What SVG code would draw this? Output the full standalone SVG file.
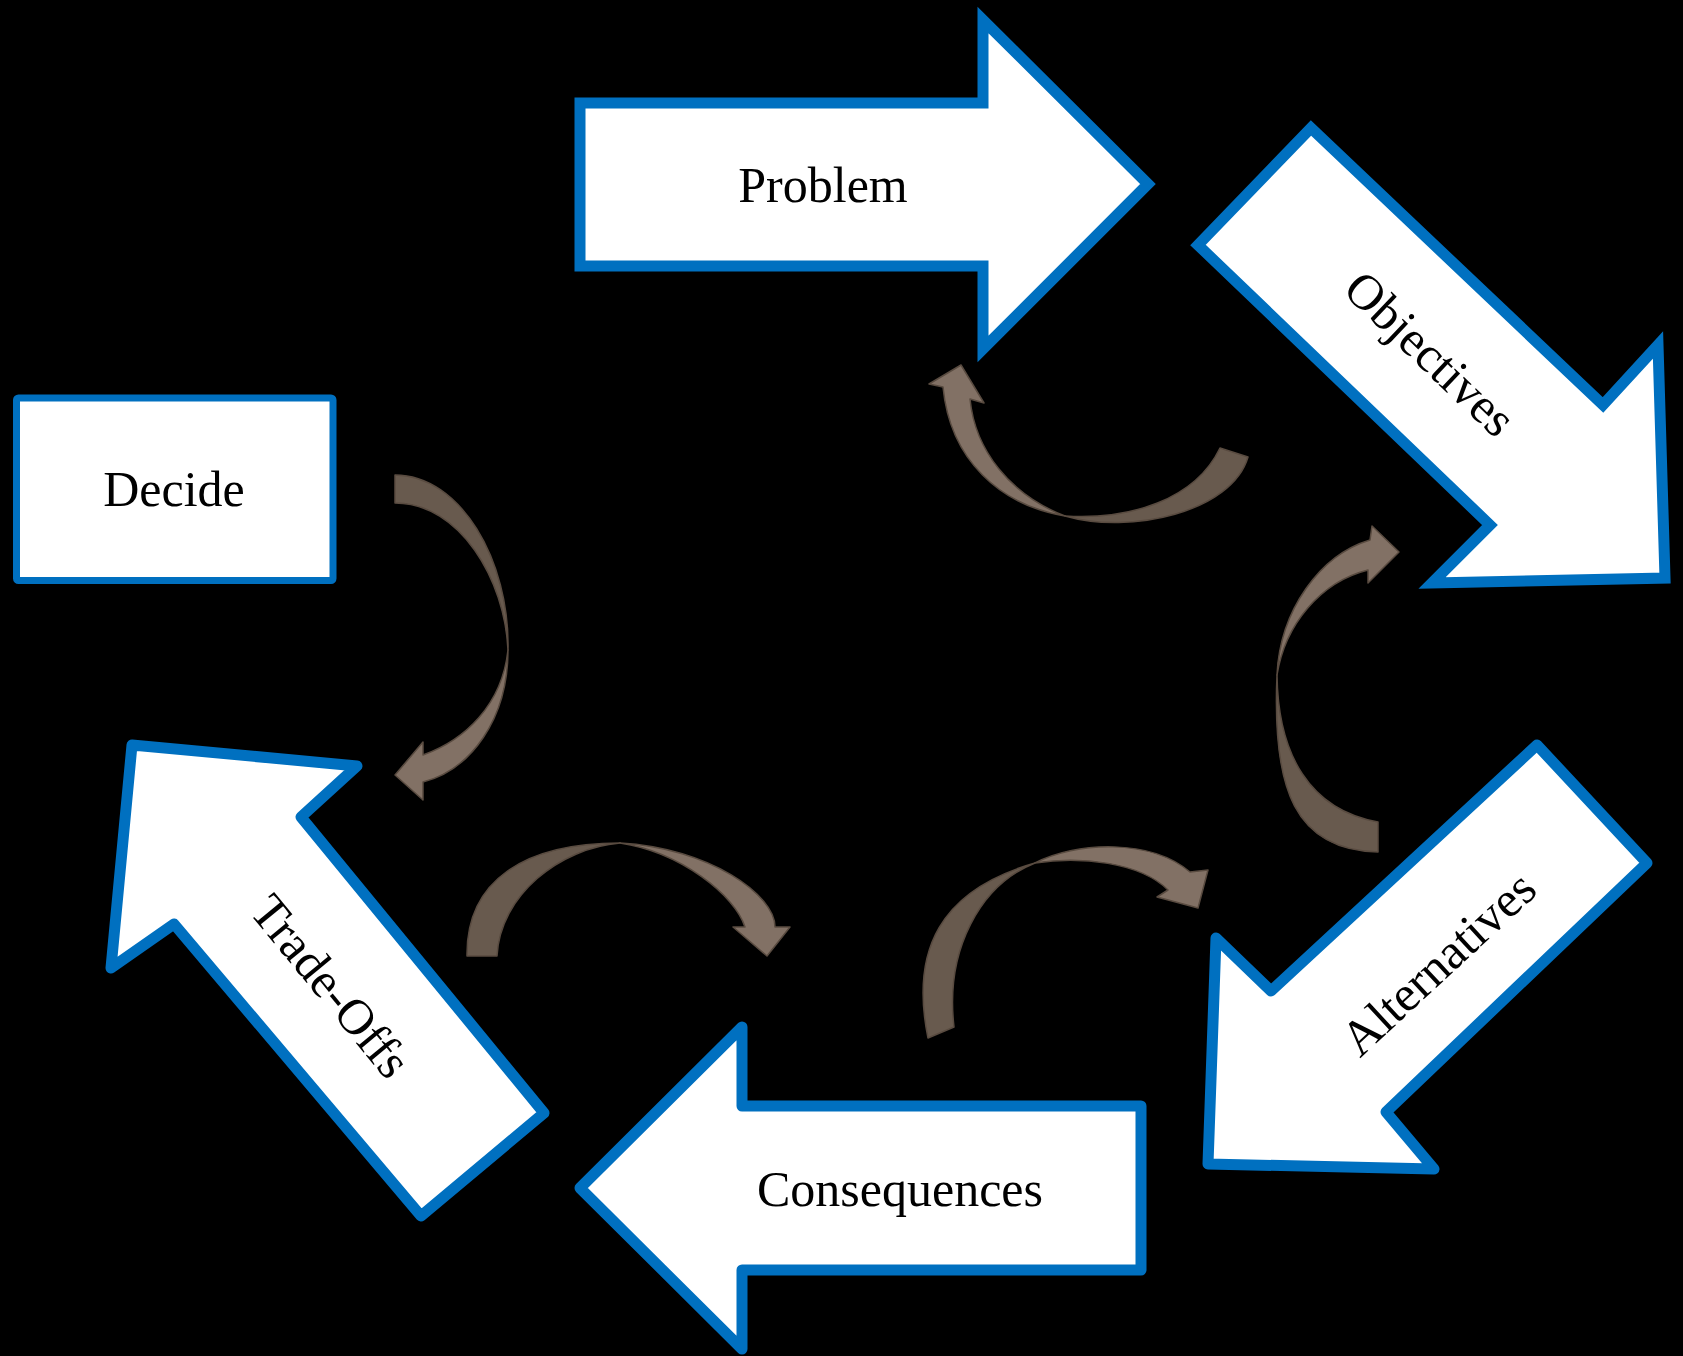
<svg xmlns="http://www.w3.org/2000/svg" width="1683" height="1356" viewBox="0 0 1683 1356">
<style>
.blk{fill:#ffffff;stroke:#0070C0;stroke-width:11}
.sharp{stroke-linejoin:miter;stroke-miterlimit:10}
.round{stroke-linejoin:round}
.lbl{font-family:"Liberation Serif","Times New Roman",serif;font-size:50px;fill:#000000;text-anchor:middle}
.tail{fill:#685a4e;stroke:#594b40;stroke-width:1.5;stroke-linejoin:round}
.head{fill:#827165;stroke:#594b40;stroke-width:1.5;stroke-linejoin:round}
</style>
<rect x="0" y="0" width="1683" height="1356" fill="#000000"/>
<g id="connectors">
  <g id="c-decide-tradeoffs">
    <path class="tail" d="M395,475 C460,475 510,560 508,650 C505,580 460,503 395,503 Z"/>
    <path class="head" d="M508,650 C508,720 470,770 423,782 L423,800 L395,775 L423,742 L423,755 C465,740 502,705 508,650 Z"/>
  </g>
  <g id="c-objectives-problem">
    <path class="tail" d="M1248,457 C1232,512 1130,535 1065,516 C1130,520 1195,500 1220,448 Z"/>
    <path class="head" d="M1065,516 C1000,505 950,460 943,387 L929,384 L961,365 L984,403 L970,399 C975,450 1010,495 1065,516 Z"/>
  </g>
  <g id="c-alternatives-objectives">
    <path class="tail" d="M1378,852 C1295,850 1272,790 1277,675 C1278,755 1310,810 1378,822 Z"/>
    <path class="head" d="M1277,675 C1280,610 1320,555 1370,540 L1372,526 L1399,552 L1368,583 L1368,570 C1320,582 1285,625 1277,675 Z"/>
  </g>
  <g id="c-tradeoffs-consequences">
    <path class="tail" d="M467,956 C466,880 525,843 620,843 C560,848 500,895 497,956 Z"/>
    <path class="head" d="M620,843 C710,848 775,895 775,927 L790,927 L767,956 L733,927 L745,927 C735,895 680,852 620,843 Z"/>
  </g>
  <g id="c-consequences-alternatives">
    <path class="tail" d="M928,1038 C910,950 940,890 1035,863 C980,885 945,950 954,1027 Z"/>
    <path class="head" d="M1035,863 C1075,842 1150,838 1190,872 L1208,870 L1198,908 L1157,897 L1168,890 C1140,862 1080,856 1035,863 Z"/>
  </g>
</g>
<g id="problem">
  <polygon class="blk sharp" points="580,103 983,103 983,20 1148,184 983,349 983,266 580,266"/>
  <text class="lbl" x="823" y="202">Problem</text>
</g>
<g id="objectives">
  <polygon class="blk sharp" points="1311,128 1603,405 1658,345 1665,578 1432,583 1490,525 1198,245"/>
  <text class="lbl" transform="translate(1427,357) rotate(43.6)" x="0" y="12">Objectives</text>
</g>
<g id="alternatives">
  <polygon class="blk round" points="1537,745 1647,863 1386,1112 1434,1169 1208,1164 1216,938 1271,991"/>
  <text class="lbl" transform="translate(1438,963) rotate(-42.8)" x="0" y="17">Alternatives</text>
</g>
<g id="consequences">
  <polygon class="blk round" points="580,1188 742,1027 742,1106 1141,1106 1141,1270 742,1270 742,1349"/>
  <text class="lbl" x="900" y="1206">Consequences</text>
</g>
<g id="tradeoffs">
  <polygon class="blk round" points="132,745 357,766 301,817 544,1113 421,1216 174,924 111,968"/>
  <text class="lbl" transform="translate(331,986) rotate(50.6)" x="0" y="17">Trade-Offs</text>
</g>
<g id="decide">
  <rect x="16.5" y="398" width="316.5" height="182.5" rx="2" fill="#ffffff" stroke="#0070C0" stroke-width="7"/>
  <text class="lbl" x="174" y="506">Decide</text>
</g>
</svg>
